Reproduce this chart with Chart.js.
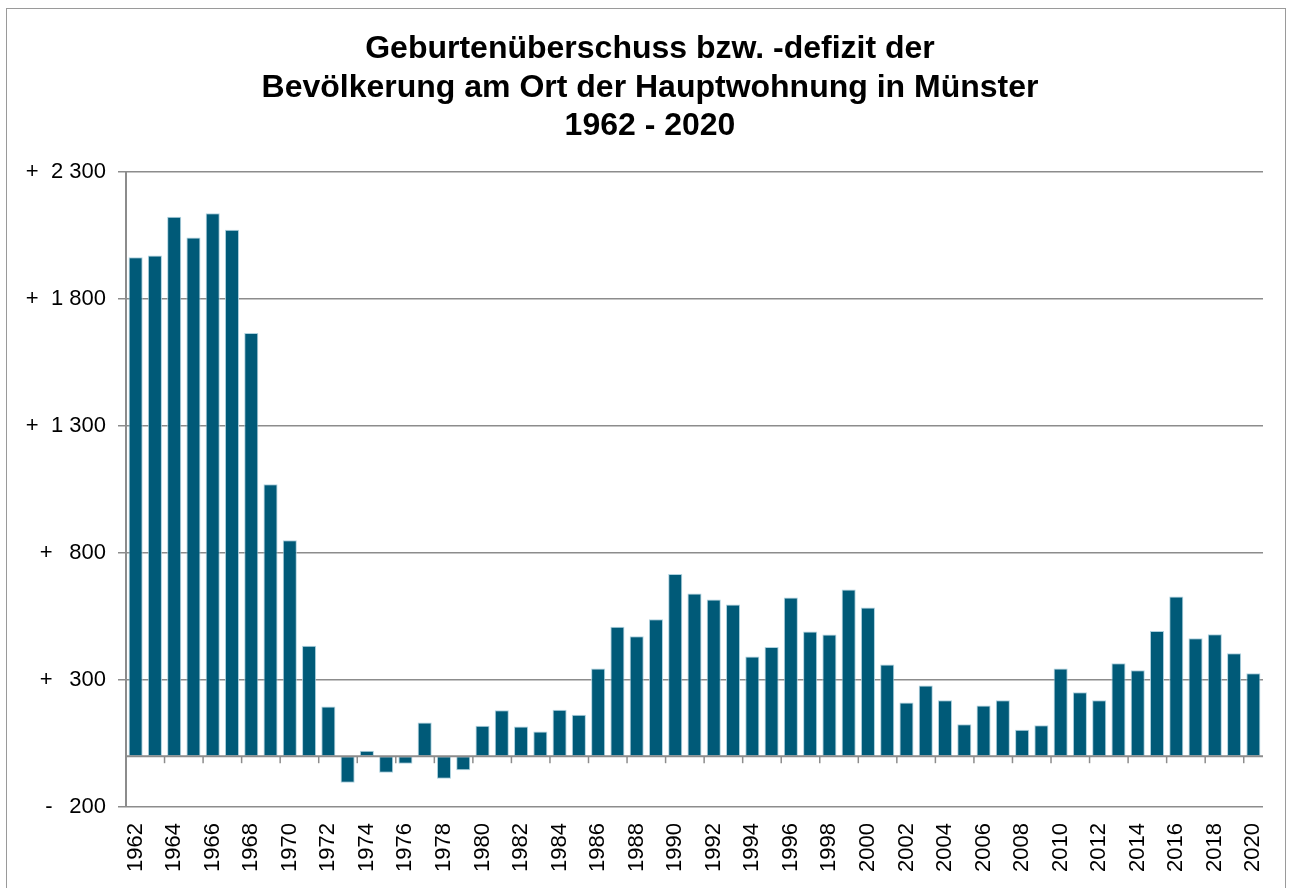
<!DOCTYPE html>
<html lang="de">
<head>
<meta charset="utf-8">
<title>Geburtenüberschuss Münster 1962 - 2020</title>
<script src="https://cdn.jsdelivr.net/npm/chart.js@4.4.1/dist/chart.umd.min.js"></script>
<style>
  html, body { margin: 0; padding: 0; background: #fff; overflow: hidden; }
  #wrap { position: relative; width: 1290px; height: 888px; }
  #frame {
    position: absolute; left: 6px; top: 8px; width: 1278px; height: 900px;
    border: 1.5px solid #9a9a9a; pointer-events: none;
  }
  #title {
    position: absolute; left: 10px; top: 28px; width: 1280px;
    text-align: center; color: #000;
    font: bold 32px 'Liberation Sans', Arial, sans-serif;
    line-height: 38.5px;
  }
</style>
</head>
<body>
<div id="wrap">
  <canvas id="chart"></canvas>
  <div id="title"></div>
  <div id="frame"></div>
</div>
<script>
// Jahre und Geburtenüberschuss (+) bzw. -defizit (-)
const years = [
  1962, 1963, 1964, 1965, 1966, 1967, 1968, 1969, 1970, 1971,
  1972, 1973, 1974, 1975, 1976, 1977, 1978, 1979, 1980, 1981,
  1982, 1983, 1984, 1985, 1986, 1987, 1988, 1989, 1990, 1991,
  1992, 1993, 1994, 1995, 1996, 1997, 1998, 1999, 2000, 2001,
  2002, 2003, 2004, 2005, 2006, 2007, 2008, 2009, 2010, 2011,
  2012, 2013, 2014, 2015, 2016, 2017, 2018, 2019, 2020
];
const balance = [
  1964, 1971, 2124, 2042, 2138, 2073, 1666, 1071, 850, 435,
  196, -105, 21, -65, -30, 133, -89, -55, 120, 181,
  117, 97, 183, 163, 345, 510, 472, 539, 717, 641,
  617, 597, 393, 430, 625, 491, 479, 656, 585, 361,
  211, 278, 220, 126, 200, 220, 104, 122, 345, 252,
  220, 366, 338, 493, 629, 464, 480, 405, 327
];
const yTicks = [-200, 300, 800, 1300, 1800, 2300];
const titleLines = [
  'Geburtenüberschuss bzw. -defizit der',
  'Bevölkerung am Ort der Hauptwohnung in Münster',
  '1962 - 2020'
];

const gridGray = '#8c8c8c';
const barColor = '#005a78';
const fontFamily = "'Liberation Sans', Arial, sans-serif";

document.getElementById('title').innerHTML = titleLines.join('<br>');

function formatTick(v) {
  const abs = Math.abs(v);
  let num = String(abs);
  if (abs >= 1000) num = Math.floor(abs / 1000) + ' ' + String(abs % 1000).padStart(3, '0');
  const gap = abs >= 1000 ? '\u00a0\u00a0' : '\u00a0\u00a0\u2009';
  return (v < 0 ? '-' : '+') + gap + num;
}

// Nulllinie mit Teilstrichen (jede zweite Kategorie), wie im Original
const zeroAxis = {
  id: 'zeroAxis',
  afterDatasetsDraw(chart) {
    const { ctx, chartArea, scales } = chart;
    const y0 = scales.y.getPixelForValue(0);
    ctx.save();
    ctx.strokeStyle = gridGray;
    ctx.lineWidth = 2;
    ctx.beginPath();
    ctx.moveTo(chartArea.left, y0);
    ctx.lineTo(chartArea.right, y0);
    ctx.stroke();
    ctx.lineWidth = 1.5;
    for (let i = 1; i < years.length - 1; i += 2) {
      const x = (scales.x.getPixelForValue(i) + scales.x.getPixelForValue(i + 1)) / 2;
      ctx.beginPath();
      ctx.moveTo(x, y0);
      ctx.lineTo(x, y0 + 7);
      ctx.stroke();
    }
    ctx.restore();
  }
};

const ctx = document.getElementById('chart').getContext('2d');
new Chart(ctx, {
  type: 'bar',
  data: {
    labels: years.map(String),
    datasets: [{
      data: balance,
      backgroundColor: barColor,
      borderColor: 'rgba(165, 205, 220, 0.9)',
      borderWidth: 1,
      borderSkipped: false,
      barPercentage: 0.73,
      categoryPercentage: 1.0
    }]
  },
  options: {
    responsive: true,
    maintainAspectRatio: false,
    animation: false,
    devicePixelRatio: 1,
    layout: { padding: { left: 0, right: 27, top: 172, bottom: 0 } },
    plugins: {
      legend: { display: false },
      tooltip: { enabled: false },
      title: { display: false }
    },
    scales: {
      x: {
        type: 'category',
        grid: { display: false, drawTicks: false },
        border: { display: false },
        ticks: {
          autoSkip: false,
          maxRotation: 90,
          minRotation: 90,
          padding: 16,
          color: '#000',
          font: { family: fontFamily, size: 22 },
          callback: (v, i) => (i % 2 === 0 ? String(years[i]) : '')
        },
        afterFit: scale => {
          scale.height = 81;
          scale.paddingLeft = 0;
          scale.paddingRight = 0;
        }
      },
      y: {
        min: yTicks[0],
        max: yTicks[yTicks.length - 1],
        grid: { color: gridGray, lineWidth: 1.5, tickLength: 8 },
        border: { display: true, color: gridGray, width: 2 },
        afterBuildTicks: scale => { scale.ticks = yTicks.map(v => ({ value: v })); },
        ticks: {
          padding: 12,
          color: '#000',
          font: { family: fontFamily, size: 22 },
          callback: v => formatTick(v)
        },
        afterFit: scale => { scale.width = 126; }
      }
    }
  },
  plugins: [zeroAxis]
});
</script>
</body>
</html>
